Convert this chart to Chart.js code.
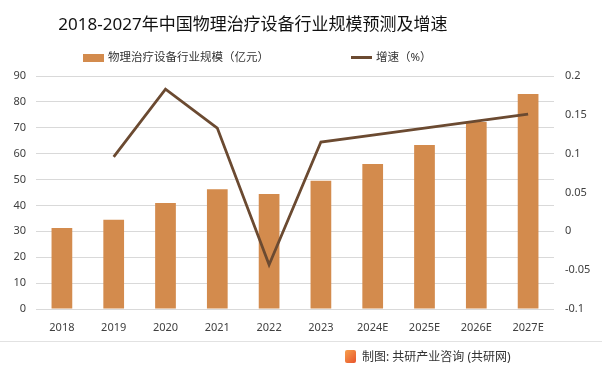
<!DOCTYPE html>
<html>
<head>
<meta charset="utf-8">
<script src="https://cdn.jsdelivr.net/npm/chart.js@4/dist/chart.umd.min.js"></script>
<style>
    html, body { margin: 0; padding: 0; background: #fff; }
    body { width: 602px; height: 375px; position: relative; overflow: hidden;
           font-family: "Noto Sans", "Noto Sans CJK SC", sans-serif; }
    #chartBox { position: absolute; left: 0; top: 0; width: 602px; height: 375px; }
    .title { position: absolute; left: 0; width: 506px; top: 12px; text-align: center;
             font-size: 17px; color: #111; line-height: 24px; }
    .legend { position: absolute; top: 49px; font-size: 11.5px; color: #333; line-height: 16px; white-space: nowrap; }
    .legend .swatch { display: inline-block; vertical-align: middle; margin-right: 4px; }
    .sep { position: absolute; left: 0; right: 0; top: 341px; height: 1px; background: #e2e2e2; }
    .footer { position: absolute; top: 349px; left: 345px; font-size: 12px; color: #333; line-height: 16px; white-space: nowrap; }
    .logo { display: inline-block; width: 11px; height: 13px; vertical-align: -2px; margin-right: 6px;
            background: linear-gradient(135deg, #f6a04d, #e8542c); border-radius: 2px; }
</style>
</head>
<body>
<div id="chartBox"><canvas id="mainChart" width="602" height="375"></canvas></div>
<div class="title">2018-2027年中国物理治疗设备行业规模预测及增速</div>
<div class="legend" style="left:83px;"><span class="swatch" style="width:21px;height:8px;background:#d38b4d;"></span>物理治疗设备行业规模（亿元）</div>
<div class="legend" style="left:351px;"><span class="swatch" style="width:21px;height:3px;background:#6b4a31;"></span>增速（%）</div>
<div class="sep"></div>
<div class="footer"><span class="logo"></span>制图: 共研产业咨询 (共研网)</div>

<script>
// Chart data
const years = ['2018', '2019', '2020', '2021', '2022', '2023', '2024E', '2025E', '2026E', '2027E'];
const marketSize = [31.3, 34.5, 40.9, 46.3, 44.4, 49.5, 56.0, 63.3, 72.2, 83.0];   // 亿元
const growthRate = [null, 0.096, 0.183, 0.133, -0.043, 0.115, 0.124, 0.133, 0.142, 0.151];
const leftTicks = [0, 10, 20, 30, 40, 50, 60, 70, 80, 90];
const rightTicks = [-0.1, -0.05, 0, 0.05, 0.1, 0.15, 0.2];

const BAR_COLOR = '#d38b4d';
const LINE_COLOR = '#6b4a31';
const TICK_FONT = { family: '"Noto Sans", "Noto Sans CJK SC", sans-serif', size: 11 };
const TICK_COLOR = '#404040';

const ctx = document.getElementById('mainChart').getContext('2d');

new Chart(ctx, {
    type: 'bar',
    data: {
        labels: years,
        datasets: [
            {
                type: 'line',
                label: '增速（%）',
                data: growthRate,
                yAxisID: 'yRight',
                borderColor: LINE_COLOR,
                borderWidth: 2.8,
                pointRadius: 0,
                tension: 0,
                order: 0
            },
            {
                type: 'bar',
                label: '物理治疗设备行业规模（亿元）',
                data: marketSize,
                yAxisID: 'yLeft',
                backgroundColor: BAR_COLOR,
                barPercentage: 0.8,
                categoryPercentage: 0.5,
                order: 1
            }
        ]
    },
    options: {
        responsive: false,
        animation: false,
        layout: { padding: { top: 76, bottom: 36, left: 0, right: 0 } },
        plugins: {
            legend: { display: false },
            title: { display: false },
            tooltip: { enabled: false }
        },
        scales: {
            x: {
                grid: { display: false, drawTicks: false },
                border: { display: false },
                ticks: { color: TICK_COLOR, font: TICK_FONT, padding: 12, maxRotation: 0 },
                afterFit: (scale) => { scale.height = 30; }
            },
            yLeft: {
                position: 'left',
                min: 0,
                max: 90,
                afterBuildTicks: (scale) => { scale.ticks = leftTicks.map(v => ({ value: v })); },
                grid: { color: '#d9d9d9', lineWidth: 1, drawTicks: false },
                border: { display: false },
                ticks: { color: TICK_COLOR, font: TICK_FONT, padding: 10 },
                afterFit: (scale) => { scale.width = 36; }
            },
            yRight: {
                position: 'right',
                min: -0.1,
                max: 0.2,
                afterBuildTicks: (scale) => { scale.ticks = rightTicks.map(v => ({ value: v })); },
                grid: { display: false, drawTicks: false },
                border: { display: false },
                ticks: {
                    color: TICK_COLOR,
                    font: TICK_FONT,
                    padding: 11,
                    callback: (value) => String(Math.round(value * 100) / 100)
                },
                afterFit: (scale) => { scale.width = 48; }
            }
        }
    }
});
</script>
</body>
</html>
